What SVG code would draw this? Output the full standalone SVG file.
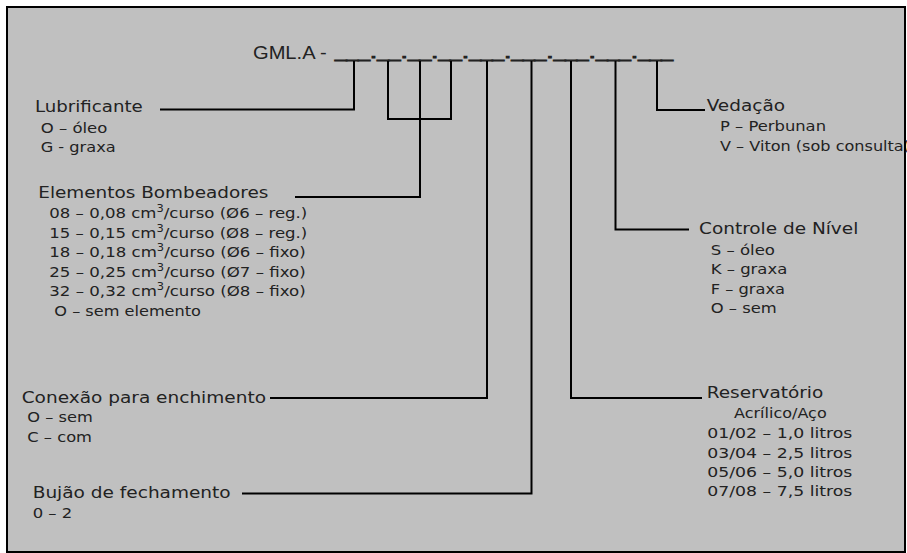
<svg xmlns="http://www.w3.org/2000/svg" width="907" height="553" viewBox="0 0 907 553">
<style>
text{font-family:"DejaVu Sans",Verdana,sans-serif;fill:#222}
.h{font-size:16px}
.s{font-size:14.5px}
.t{font-family:"Liberation Sans",Arial,sans-serif;font-size:17.5px}
.code{font-size:14px;stroke:#222;stroke-width:0.9}
.c{fill:none;stroke:#000;stroke-width:2}
.sup{font-size:10px}
</style>
<rect x="0" y="0" width="907" height="553" fill="#fff"/>
<rect x="7" y="7" width="898" height="545" fill="#c0c0c0" stroke="#000" stroke-width="2"/>
<g id="title">
<text class="t" x="253" y="59.3" textLength="73.7" lengthAdjust="spacingAndGlyphs">GML.A -</text>
</g>
<g id="code">
<text class="code" x="335" y="57.8" textLength="338" lengthAdjust="spacingAndGlyphs">___.__.__.__.___.___.___.___.___</text>
</g>
<g id="connectors">
<polyline class="c" points="160,109.5 354,109.5 354,61"/>
<polyline class="c" points="388,61 388,119 451,119 451,61"/>
<polyline class="c" points="420,61 420,197 295,197"/>
<polyline class="c" points="487,61 487,398 270,398"/>
<polyline class="c" points="531.5,61 531.5,493.5 242,493.5"/>
<polyline class="c" points="571,61 571,398 702,398"/>
<polyline class="c" points="615.5,61 615.5,229.5 689,229.5"/>
<polyline class="c" points="657,61 657,110 705,110"/>
</g>
<g id="lubrificante">
<text class="h" x="35" y="112.3" textLength="107.7" lengthAdjust="spacingAndGlyphs">Lubrificante</text>
<text class="s" x="40.7" y="133.3" textLength="66.6" lengthAdjust="spacingAndGlyphs">O – óleo</text>
<text class="s" x="40.7" y="151.7" textLength="75" lengthAdjust="spacingAndGlyphs">G - graxa</text>
</g>
<g id="elementos">
<text class="h" x="38.3" y="198.3" textLength="230" lengthAdjust="spacingAndGlyphs">Elementos Bombeadores</text>
<text class="s" x="49.3" y="218.3" textLength="258" lengthAdjust="spacingAndGlyphs">08 – 0,08 cm<tspan class="sup" dy="-6">3</tspan><tspan dy="6">/curso (Ø6 – reg.)</tspan></text>
<text class="s" x="49.3" y="237.7" textLength="258" lengthAdjust="spacingAndGlyphs">15 – 0,15 cm<tspan class="sup" dy="-6">3</tspan><tspan dy="6">/curso (Ø8 – reg.)</tspan></text>
<text class="s" x="49.3" y="257.3" textLength="256.4" lengthAdjust="spacingAndGlyphs">18 – 0,18 cm<tspan class="sup" dy="-6">3</tspan><tspan dy="6">/curso (Ø6 – fixo)</tspan></text>
<text class="s" x="49.3" y="276.7" textLength="256.4" lengthAdjust="spacingAndGlyphs">25 – 0,25 cm<tspan class="sup" dy="-6">3</tspan><tspan dy="6">/curso (Ø7 – fixo)</tspan></text>
<text class="s" x="49.3" y="296" textLength="256.4" lengthAdjust="spacingAndGlyphs">32 – 0,32 cm<tspan class="sup" dy="-6">3</tspan><tspan dy="6">/curso (Ø8 – fixo)</tspan></text>
<text class="s" x="54.3" y="316" textLength="146.7" lengthAdjust="spacingAndGlyphs">O – sem elemento</text>
</g>
<g id="conexao">
<text class="h" x="21.7" y="402.7" textLength="244.3" lengthAdjust="spacingAndGlyphs">Conexão para enchimento</text>
<text class="s" x="27.3" y="422.3" textLength="65.4" lengthAdjust="spacingAndGlyphs">O – sem</text>
<text class="s" x="27.3" y="441.7" textLength="64.7" lengthAdjust="spacingAndGlyphs">C – com</text>
</g>
<g id="bujao">
<text class="h" x="32.7" y="497.7" textLength="198" lengthAdjust="spacingAndGlyphs">Bujão de fechamento</text>
<text class="s" x="32.7" y="518.3" textLength="39.6" lengthAdjust="spacingAndGlyphs">0 – 2</text>
</g>
<g id="reservatorio">
<text class="h" x="706.7" y="398.3" textLength="116.6" lengthAdjust="spacingAndGlyphs">Reservatório</text>
<text class="s" x="734" y="418.3" textLength="92.7" lengthAdjust="spacingAndGlyphs">Acrílico/Aço</text>
<text class="s" x="707.3" y="438.3" textLength="145" lengthAdjust="spacingAndGlyphs">01/02 – 1,0 litros</text>
<text class="s" x="707.3" y="457.7" textLength="145" lengthAdjust="spacingAndGlyphs">03/04 – 2,5 litros</text>
<text class="s" x="707.3" y="477" textLength="145" lengthAdjust="spacingAndGlyphs">05/06 – 5,0 litros</text>
<text class="s" x="707.3" y="496.3" textLength="145" lengthAdjust="spacingAndGlyphs">07/08 – 7,5 litros</text>
</g>
<g id="controle">
<text class="h" x="699" y="234.3" textLength="159.3" lengthAdjust="spacingAndGlyphs">Controle de Nível</text>
<text class="s" x="710.7" y="255" textLength="64.3" lengthAdjust="spacingAndGlyphs">S – óleo</text>
<text class="s" x="710.7" y="274.3" textLength="76.6" lengthAdjust="spacingAndGlyphs">K – graxa</text>
<text class="s" x="710.7" y="294" textLength="74.3" lengthAdjust="spacingAndGlyphs">F – graxa</text>
<text class="s" x="710.7" y="313.3" textLength="66" lengthAdjust="spacingAndGlyphs">O – sem</text>
</g>
<g id="vedacao">
<text class="h" x="706.7" y="111" textLength="78.3" lengthAdjust="spacingAndGlyphs">Vedação</text>
<text class="s" x="720" y="131" textLength="106" lengthAdjust="spacingAndGlyphs">P – Perbunan</text>
<text class="s" x="720" y="150.7" textLength="190" lengthAdjust="spacingAndGlyphs">V – Viton (sob consulta)</text>
</g>
</svg>
